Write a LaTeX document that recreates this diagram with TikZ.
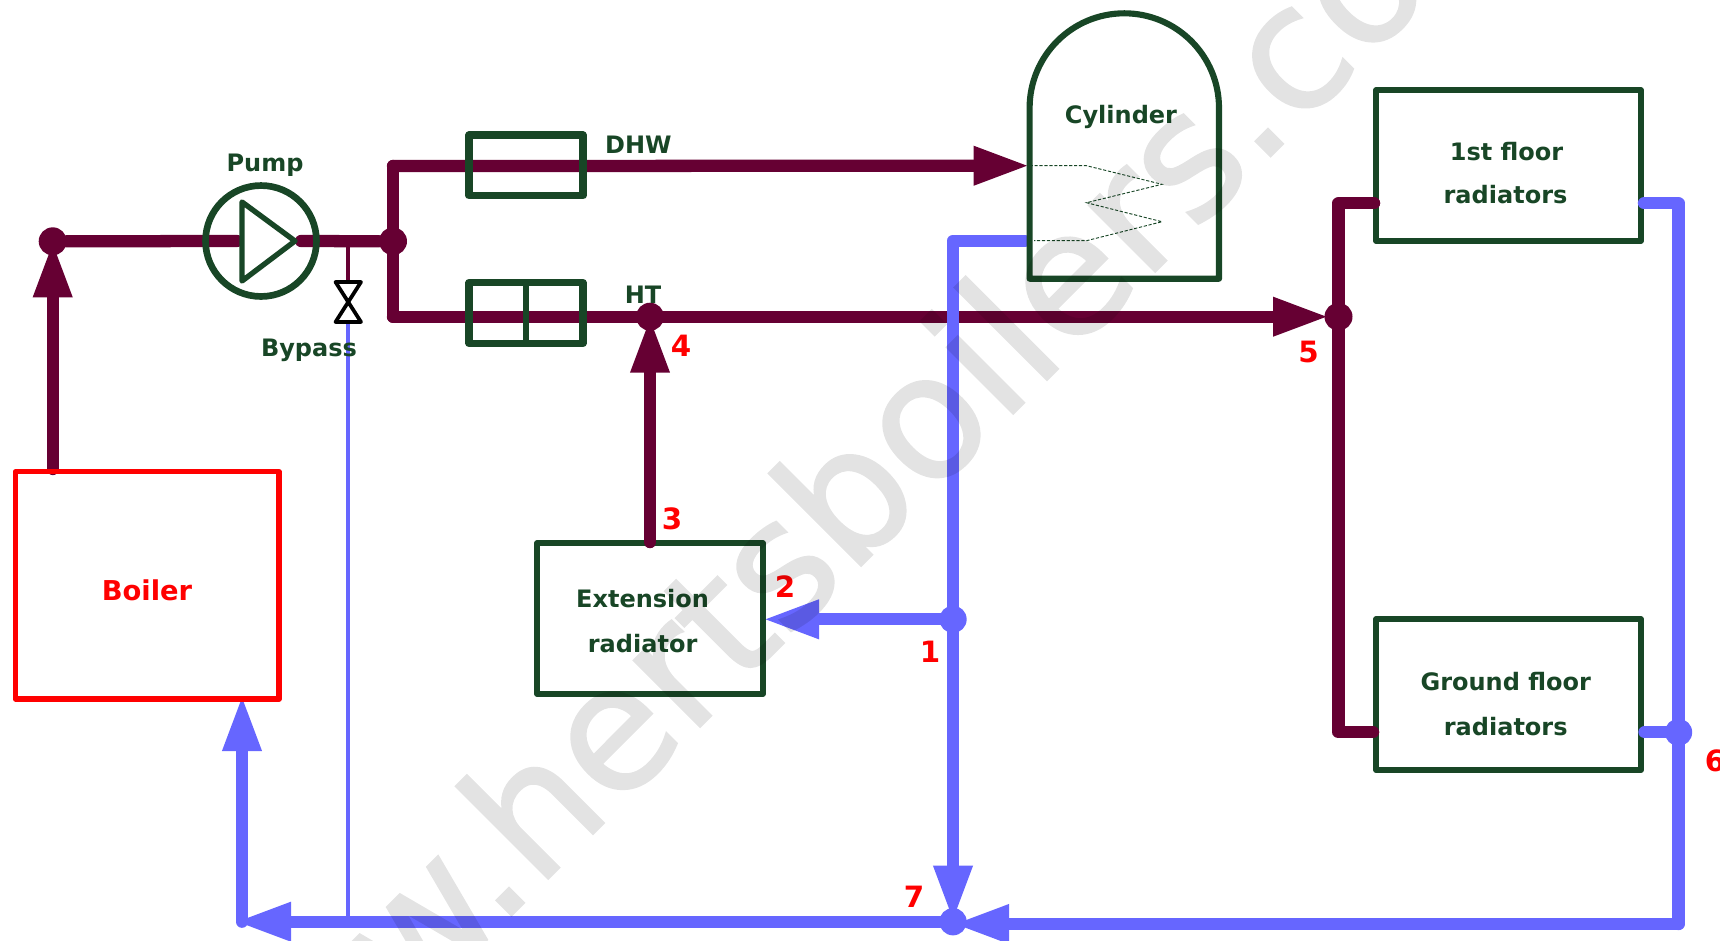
\documentclass[tikz,border=0pt]{standalone}
\usepackage{fontspec}
\setmainfont{DejaVu Sans}
\newfontfamily\wmfont[FakeBold=1.2]{DejaVu Sans}
\usetikzlibrary{arrows.meta}
\definecolor{hotpipe}{RGB}{102,0,51}
\definecolor{coldpipe}{RGB}{102,102,255}
\definecolor{darkgrn}{RGB}{24,70,38}
\tikzset{
  hot/.style={draw=hotpipe,line width=9.2pt,line cap=round,line join=round},
  cold/.style={draw=coldpipe,line width=9.2pt,line cap=round,line join=round},
  hotarrow/.style={hot,-{Triangle[length=42pt,width=27pt,fill=hotpipe]}},
  coldarrow/.style={cold,-{Triangle[length=42pt,width=27pt,fill=coldpipe]}},
  hotdot/.style={circle,fill=hotpipe,minimum size=21pt,inner sep=0pt,outer sep=0pt},
  colddot/.style={circle,fill=coldpipe,minimum size=20.5pt,inner sep=0pt,outer sep=0pt},
  unit/.style={draw=darkgrn,line width=4.3pt,line join=round,inner sep=0pt,outer sep=0pt},
  lbl/.style={anchor=base,inner sep=0pt,yshift=-0.75pt,text=darkgrn,font=\bfseries\fontsize{18}{22}\selectfont},
  num/.style={anchor=base,inner sep=0pt,text=red,font=\bfseries\fontsize{22}{26}\selectfont},
}
\begin{document}
\begin{tikzpicture}[x=0.75pt,y=0.75pt,yscale=-1,xscale=1]
\useasboundingbox (0,0) rectangle (1720,940);

%Coordinates of the bends and free ends
\coordinate (boilerout) at (52.7,469);
\coordinate (pumpin) at (237,241);
\coordinate (pumpout) at (301,241);
\coordinate (branchtop) at (393,166);
\coordinate (branchbot) at (393,316.7);
\coordinate (coilin) at (1029.6,165.7);
\coordinate (coilout) at (1025,240.7);
\coordinate (retbend) at (953,240.7);
\coordinate (bypasstap) at (348,241);
\coordinate (valvetop) at (348,282);
\coordinate (valvebot) at (348,322);
\coordinate (bypassend) at (348,921.7);
\coordinate (extin) at (763,619.3);
\coordinate (extout) at (650,542);
\coordinate (htend) at (1329,316.7);
\coordinate (upbend) at (1338.5,203.3);
\coordinate (upin) at (1374,203.3);
\coordinate (lowbend) at (1338.5,732.3);
\coordinate (lowin) at (1373,732.3);
\coordinate (upret) at (1644,203.3);
\coordinate (rightbend) at (1678.5,203.3);
\coordinate (lowret) at (1644.5,732.3);
\coordinate (cornerbr) at (1678.5,924);
\coordinate (retin) at (953,924);
\coordinate (retleft) at (242,921.7);
\coordinate (boilertip) at (242,695);
\coordinate (retend) at (235,921.7);

%Junctions
\node (jboiler) [hotdot] at (52.7,241.3) {};
\node (jbranch) [hotdot] at (393,241.3) {};
\node (jfour) [hotdot] at (650,316.7) {};
\node (jfive) [hotdot] at (1338.5,316.7) {};
\node (jone) [colddot] at (953,619.3) {};
\node (jsix) [colddot] at (1678.5,732.3) {};
\node (jseven) [colddot] at (953,921.7) {};

%Bypass
\draw [draw=hotpipe,line width=2.6pt] (bypasstap) -- (valvetop) ;
\draw [draw=coldpipe,line width=2.6pt] (valvebot) -- (bypassend) ;

%Flow pipes
\draw [hotarrow] (boilerout) -- (jboiler.center) ;
\draw [hot] (jboiler) -- (pumpin) ;
\draw [hot] (pumpout) -- (jbranch) ;
\draw [hot] (branchtop) -- (branchbot) ;
\draw [hotarrow] (branchtop) -- (coilin) ;
\draw [hotarrow] (branchbot) -- (htend) ;
\draw [hotarrow] (extout) -- (jfour.center) ;
\draw [hot] (upin) -- (upbend) -- (lowbend) -- (lowin) ;

%Return pipes
\draw [cold] (coilout) -- (retbend) -- (jone.center) ;
\draw [coldarrow] (jone.center) -- (jseven.center) ;
\draw [coldarrow] (jone.center) -- (extin) ;
\draw [cold] (upret) -- (rightbend) -- (cornerbr) ;
\draw [coldarrow] (cornerbr) -- (retin) ;
\draw [cold] (lowret) -- (jsix.center) ;
\draw [coldarrow] (jseven.center) -- (retend) ;
\draw [coldarrow] (retleft) -- (boilertip) ;

%Boxes
\node (dhwbox) [unit,line width=5.4pt,minimum width=85.5pt,minimum height=45.5pt] at (526,165.4) {};
\node (htbox) [unit,line width=5.4pt,minimum width=85.5pt,minimum height=45.5pt] at (526,313) {};
\draw [darkgrn,line width=5.2pt] (htbox.north) -- (htbox.south) ;
\node (boilerbox) [unit,draw=red,line width=4pt,minimum width=197.7pt,minimum height=170.5pt] at (147.2,585.4) {};
\node (pump) [circle,draw=darkgrn,line width=5pt,minimum size=83.2pt,inner sep=0pt,outer sep=0pt] at (261,241) {};
\draw [darkgrn,line width=4pt,line join=round,line cap=round] (242,202) -- (295,241) -- (242,281) -- cycle ;

%Valve
\draw [black,line width=2.8pt,line join=round] (335.5,282) -- (361,282) -- (335.5,322) -- (361,322) -- cycle ;

%Cylinder
\draw [darkgrn,line width=4.6pt,line join=round] (1029.6,278.7) -- (1029.6,108) arc [start angle=180,end angle=360,radius=94.7] -- (1219,278.7) -- cycle ;
\draw [darkgrn,line width=0.7pt,dash pattern={on 2.4pt off 1.3pt}] (1029.6,165.7) -- (1086.5,165.7) -- (1162,184.3) -- (1086.5,202.7) -- (1162,221.7) -- (1086.5,240.7) -- (1034,240.7) ;

%Radiators
\node (firstbox) [unit,minimum width=198.7pt,minimum height=113.2pt] at (1508.5,165.5) {};
\node (groundbox) [unit,minimum width=198.7pt,minimum height=113.2pt] at (1508.5,694.7) {};
\node (extbox) [unit,minimum width=169.5pt,minimum height=113.2pt] at (650,618.5) {};

%Stubs lying over the box outlines
\draw [hot] (upin) -- +(-8,0) ;
\draw [hot] (lowin) -- +(-8,0) ;
\draw [hot] (extout) -- +(0,-8) ;
\draw [cold] (upret) -- +(8,0) ;
\draw [cold] (lowret) -- +(8,0) ;

% Text Node
\draw (265,170) node (lblpump) [lbl] {Pump};
% Text Node
\draw (309,355) node (lblbypass) [lbl] {Bypass};
% Text Node
\draw (638.4,152.7) node (lbldhw) [lbl] {DHW};
% Text Node
\draw (643,302.7) node (lblht) [lbl] {HT};
% Text Node
\draw (1121,122.7) node (lblcyl) [lbl] {Cylinder};
% Text Node
\draw (1506.5,159.3) node (lblfirst) [lbl] {1st floor};
% Text Node
\draw (1505.5,202.7) node (lblfirstb) [lbl] {radiators};
% Text Node
\draw (1505.7,689) node (lblground) [lbl] {Ground floor};
% Text Node
\draw (1505.7,734) node (lblgroundb) [lbl] {radiators};
% Text Node
\draw (642.6,606) node (lblext) [lbl] {Extension};
% Text Node
\draw (642.6,651) node (lblextb) [lbl] {radiator};
% Text Node
\draw (147,599.3) node (lblboiler) [lbl,text=red,font=\bfseries\fontsize{20.5}{24}\selectfont] {Boiler};
% Text Node
\draw (930,662.3) node (numone) [num] {1};
% Text Node
\draw (785,597.3) node (numtwo) [num] {2};
% Text Node
\draw (672,529.3) node (numthree) [num] {3};
% Text Node
\draw (681,356) node (numfour) [num] {4};
% Text Node
\draw (1308.5,362.7) node (numfive) [num] {5};
% Text Node
\draw (1715,771.7) node (numsix) [num] {6};
% Text Node
\draw (914,907.3) node (numseven) [num] {7};

%Watermark
\begin{scope}[transparency group,opacity=0.11]
\draw (211,1216) node (wmark) [anchor=base west,inner sep=0pt,rotate=45,text=black,font=\wmfont\fontsize{129}{150}\selectfont] {www.hertsboilers.com};
\end{scope}
\end{tikzpicture}
\end{document}
